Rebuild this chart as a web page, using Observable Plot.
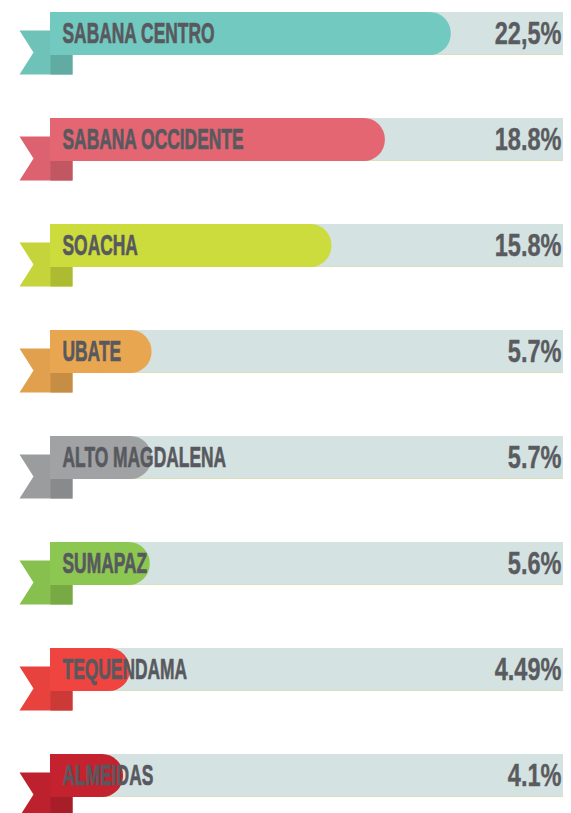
<!DOCTYPE html>
<html>
<head>
<meta charset="utf-8">
<script src="https://cdn.jsdelivr.net/npm/d3@7"></script>
<script src="https://cdn.jsdelivr.net/npm/@observablehq/plot@0.6"></script>
<style>
  html, body { margin: 0; padding: 0; background: #ffffff; }
  svg { display: block; }
</style>
</head>
<body>
<div id="chart"></div>
<script>
// Data
const regions = ["SABANA CENTRO", "SABANA OCCIDENTE", "SOACHA", "UBATE", "ALTO MAGDALENA", "SUMAPAZ", "TEQUENDAMA", "ALMEIDAS"];
const shares = [22.5, 18.8, 15.8, 5.7, 5.7, 5.6, 4.49, 4.1];
const shareLabels = ["22,5%", "18.8%", "15.8%", "5.7%", "5.7%", "5.6%", "4.49%", "4.1%"];
const colors = ["#72c9bf", "#e36672", "#cbdc3c", "#e8a650", "#a0a2a4", "#8cc751", "#ef4440", "#c4222f"];

const XMAX = 28.8;
const rows = regions.map((name, i) => ({
  name, value: shares[i], label: shareLabels[i], color: colors[i],
  tail: d3.color(colors[i]).darker(0.1).formatHex(),
  fold: d3.color(colors[i]).darker(0.45).formatHex()
}));

// Ribbon tail shapes (relative to the start of each bar, centred on the band)
const tailSymbol = {
  draw(ctx) {
    ctx.moveTo(-31, -3.5);
    ctx.lineTo(22, -3.5);
    ctx.lineTo(22, 40.5);
    ctx.lineTo(-31, 40.5);
    ctx.lineTo(-17, 18.5);
    ctx.closePath();
  }
};
const foldSymbol = {
  draw(ctx) {
    ctx.moveTo(0, 21);
    ctx.lineTo(22, 21);
    ctx.lineTo(22, 40.5);
    ctx.lineTo(0, 40.5);
    ctx.closePath();
  }
};

const svg = Plot.plot({
  width: 571,
  height: 813,
  marginTop: 0,
  marginBottom: 0,
  marginLeft: 50,
  marginRight: 8,
  x: {domain: [0, XMAX], axis: null},
  y: {domain: regions, range: [10, 798], paddingInner: 0.596, paddingOuter: 0, axis: null},
  color: {type: "identity"},
  marks: [
    Plot.barX(rows, {x1: 0, x2: XMAX, y: "name", fill: "#d4e3e1"}),
    Plot.barX(rows, {x1: 0, x2: XMAX, y: "name", fill: "#d9dfbb", insetTop: 42}),
    Plot.dot(rows, {x: 0, y: "name", symbol: tailSymbol, r: 10, fill: "tail", stroke: null}),
    Plot.dot(rows, {x: 0, y: "name", symbol: foldSymbol, r: 10, fill: "fold", stroke: null}),
    Plot.barX(rows, {x1: 0, x2: "value", y: "name", fill: "color", rx: 21}),
    Plot.barX(rows, {x1: 0, x2: d => d.value / 2, y: "name", fill: "color"}),
    Plot.text(rows, {x: 0, y: "name", text: "name", dx: 12, textAnchor: "start",
      fontSize: 29, fontWeight: "bold", fontFamily: "Liberation Sans, Arial, sans-serif",
      fill: "#58595f", stroke: "#58595f", strokeWidth: 0.7}),
    Plot.text(rows, {x: XMAX, y: "name", text: "label", dx: -2, textAnchor: "end",
      fontSize: 31, fontWeight: "bold", fontFamily: "Liberation Sans, Arial, sans-serif",
      fill: "#5a5b60", stroke: "#5a5b60", strokeWidth: 0.4})
  ]
});

// Condense the lettering horizontally to mimic the narrow display typeface
const textGroups = svg.querySelectorAll('g[aria-label="text"]');
const squeeze = [0.6, 0.76];
textGroups.forEach((g, k) => {
  g.querySelectorAll("text").forEach(t => {
    const tr = t.getAttribute("transform") || "";
    t.setAttribute("transform", tr + ` scale(${squeeze[k]},1)`);
  });
});

document.getElementById("chart").appendChild(svg);
</script>
</body>
</html>
